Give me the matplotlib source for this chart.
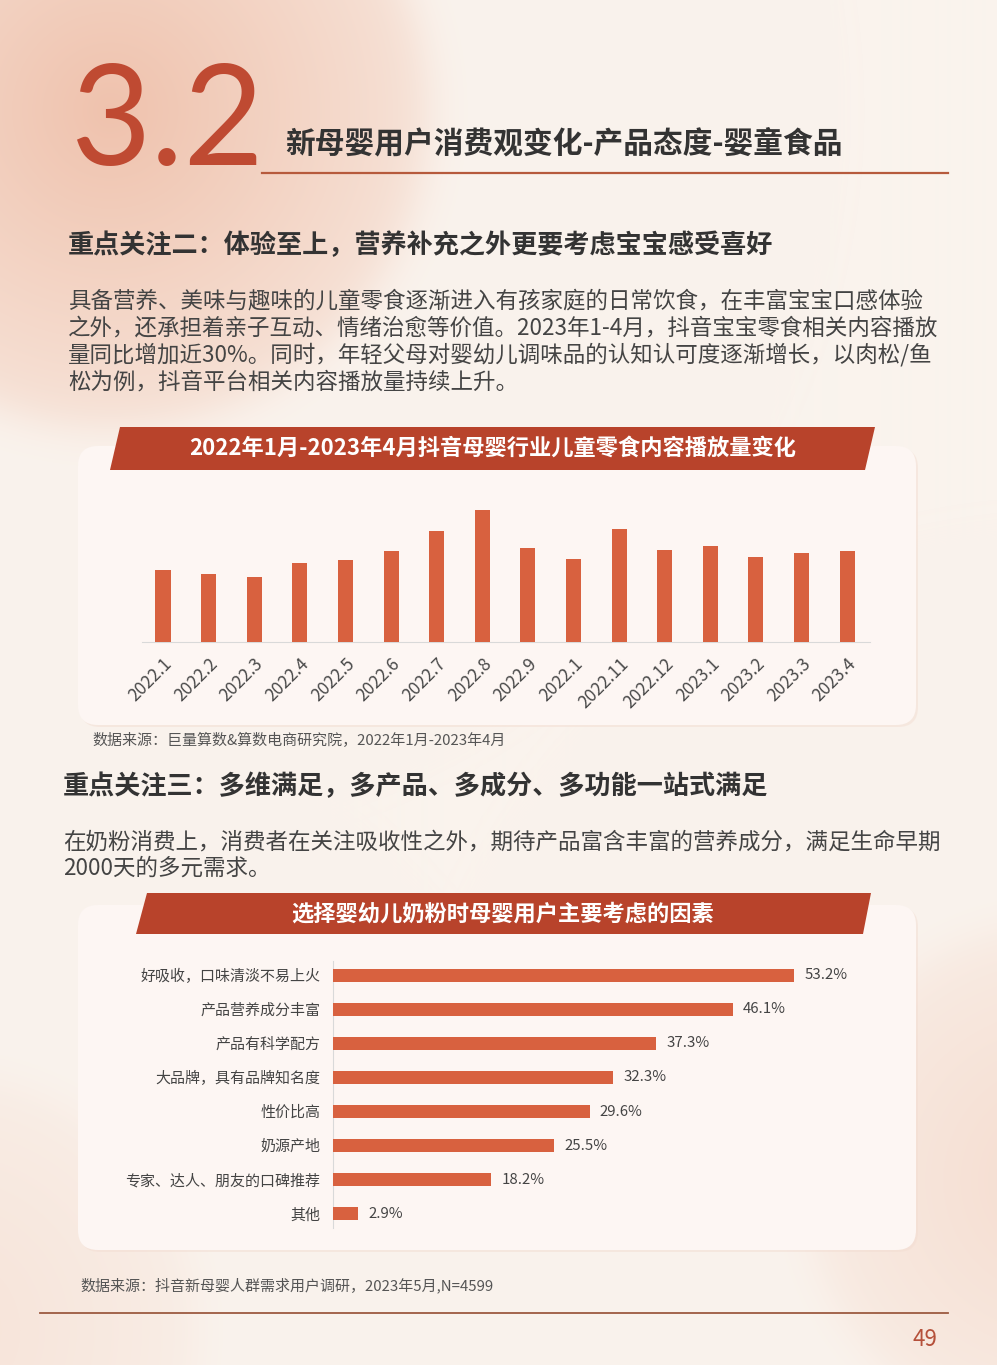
import numpy as np
import matplotlib.pyplot as plt
from matplotlib.patches import FancyBboxPatch, Polygon

plt.rcParams['font.family'] = ['Noto Sans CJK SC', 'DejaVu Sans']

# monthly snack content plays (relative)
months = ['2022.1', '2022.2', '2022.3', '2022.4', '2022.5', '2022.6', '2022.7', '2022.8',
          '2022.9', '2022.1', '2022.11', '2022.12', '2023.1', '2023.2', '2023.3', '2023.4']
plays = [72, 68, 65, 79, 82, 91, 111, 132, 94, 83, 113, 92, 96, 85, 89, 91]

# milk powder factors
factors = ['好吸收，口味清淡不易上火', '产品营养成分丰富', '产品有科学配方', '大品牌，具有品牌知名度',
           '性价比高', '奶源产地', '专家、达人、朋友的口碑推荐', '其他']
shares = [53.2, 46.1, 37.3, 32.3, 29.6, 25.5, 18.2, 2.9]

W, H = 997, 1365
RED = '#b8432b'
BAR = '#d8613f'
DARK = '#333333'

fig = plt.figure(figsize=(W / 100, H / 100), dpi=100)

# page background with soft pink blobs
bg = fig.add_axes([0, 0, 1, 1])
bg.set_xlim(0, W)
bg.set_ylim(H, 0)
bg.axis('off')
yy, xx = np.mgrid[0:H, 0:W]
img = np.ones((H, W, 3)) * np.array([250, 243, 237]) / 255
pink = np.array([236, 178, 152]) / 255


def blob(cx, cy, r, k):
    d = np.hypot(xx - cx, yy - cy)
    w = 1 / (1 + np.exp((d - r) / 12.0)) * (0.35 + 0.65 * np.clip(1 - d / r, 0, 1)) * k
    return w[..., None]


for cx, cy, r, k in [(110, 110, 320, 0.75), (1060, 1180, 260, 0.35), (-60, 1330, 260, 0.25)]:
    w = blob(cx, cy, r, k)
    img = img * (1 - w) + pink * w
bg.imshow(img, extent=(0, W, H, 0), aspect='auto', zorder=0)

# header
bg.text(70, 165, '3.2', fontsize=100, color='#bf4a32', family='Lato', weight='normal',
        ha='left', va='baseline')
bg.text(285, 143, '新母婴用户消费观变化-产品态度-婴童食品', fontsize=21.4, weight='bold',
        color=DARK, va='center')
bg.plot([262, 948], [173, 173], color='#b65a3c', lw=1.6)

bg.text(68, 246, '重点关注二：体验至上，营养补充之外更要考虑宝宝感受喜好', fontsize=18.8,
        weight='bold', color=DARK, va='center')
para1 = ['具备营养、美味与趣味的儿童零食逐渐进入有孩家庭的日常饮食，在丰富宝宝口感体验',
         '之外，还承担着亲子互动、情绪治愈等价值。2023年1-4月，抖音宝宝零食相关内容播放',
         '量同比增加近30%。同时，年轻父母对婴幼儿调味品的认知认可度逐渐增长，以肉松/鱼',
         '松为例，抖音平台相关内容播放量持续上升。']
for i, line in enumerate(para1):
    bg.text(68, 301 + i * 27, line, fontsize=16.2, color='#444444', va='center')

bg.text(63, 787, '重点关注三：多维满足，多产品、多成分、多功能一站式满足', fontsize=18.8,
        weight='bold', color=DARK, va='center')
para2 = ['在奶粉消费上，消费者在关注吸收性之外，期待产品富含丰富的营养成分，满足生命早期',
         '2000天的多元需求。']
for i, line in enumerate(para2):
    bg.text(63, 842 + i * 26, line, fontsize=16.2, color='#444444', va='center')

# panels and banners
for y0, y1 in [(446, 725), (905, 1250)]:
    bg.add_patch(FancyBboxPatch((80, y0 + 2), 838, y1 - y0, boxstyle='round,pad=0,rounding_size=20',
                                fc='#f3ddd2', ec='none', alpha=0.5, zorder=1))
    bg.add_patch(FancyBboxPatch((78, y0), 838, y1 - y0, boxstyle='round,pad=0,rounding_size=20',
                                fc='#fdf6f3', ec='none', zorder=2))
bg.add_patch(Polygon([(120, 427), (875, 427), (865, 470), (110, 470)], closed=True,
                     fc=RED, ec='none', zorder=3))
bg.text(493, 448, '2022年1月-2023年4月抖音母婴行业儿童零食内容播放量变化', fontsize=16,
        weight='bold', color='white', ha='center', va='center', zorder=4)
bg.add_patch(Polygon([(147, 893), (871, 893), (863, 934), (136, 934)], closed=True,
                     fc=RED, ec='none', zorder=3))
bg.text(503, 914, '选择婴幼儿奶粉时母婴用户主要考虑的因素', fontsize=16,
        weight='bold', color='white', ha='center', va='center', zorder=4)

bg.text(92, 740, '数据来源：巨量算数&算数电商研究院，2022年1月-2023年4月', fontsize=10.8,
        color='#555555', va='center')
bg.text(80, 1285, '数据来源：抖音新母婴人群需求用户调研，2023年5月,N=4599', fontsize=10.8,
        color='#555555', va='center')
bg.plot([40, 948], [1313, 1313], color='#9c5a40', lw=1.3)
bg.text(937, 1340, '49', fontsize=16, color='#b5503a', ha='right', va='center')

# column chart
ax1 = fig.add_axes([142 / W, 1 - 642 / H, (870 - 142) / W, 142 / H])
ax1.patch.set_alpha(0)
x = np.arange(len(months))
ax1.bar(x, plays, width=0.33, color=BAR, zorder=3)
ax1.set_xlim(-0.46, len(months) - 0.5)
ax1.set_ylim(0, 142)
ax1.set_yticks([])
ax1.set_xticks(x)
ax1.set_xticklabels(months, rotation=45, ha='right', rotation_mode='anchor',
                    fontsize=12.5, color='#4a4a4a')
ax1.tick_params(axis='x', length=0, pad=9)
for s in ['top', 'right', 'left']:
    ax1.spines[s].set_visible(False)
ax1.spines['bottom'].set_color('#d9d9d9')

# horizontal bar chart
ax2 = fig.add_axes([333 / W, 1 - 1228 / H, 520 / W, (1228 - 961) / H])
ax2.patch.set_alpha(0)
y = np.arange(len(factors))
ax2.barh(y, shares, height=0.37, color=BAR, zorder=3)
ax2.set_xlim(0, 60)
ax2.set_ylim(len(factors) - 0.58, -0.42)
ax2.set_xticks([])
ax2.set_yticks(y)
ax2.set_yticklabels(factors, fontsize=10.8, color='#444444')
ax2.tick_params(axis='y', length=0, pad=9)
for s in ['top', 'right', 'bottom']:
    ax2.spines[s].set_visible(False)
ax2.spines['left'].set_color('#d9d9d9')
for yi, v in zip(y, shares):
    ax2.text(v + 1.2, yi, f'{v:.1f}%', fontsize=10.8, color='#444444', va='center')

fig.savefig('out.png', dpi=100)
